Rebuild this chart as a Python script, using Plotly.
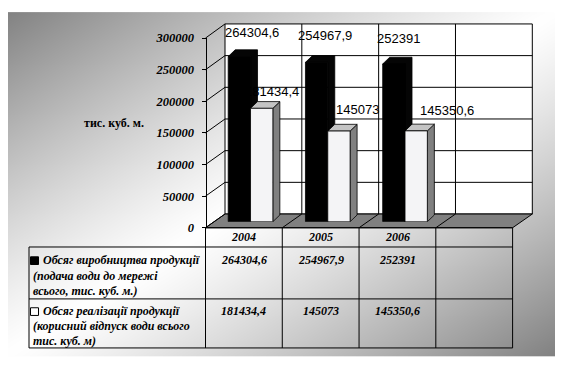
import base64
import struct
import zlib

import numpy as np
import plotly.graph_objects as go

# ---------------- data ----------------
years = ["2004", "2005", "2006"]
production = [264304.6, 254967.9, 252391.0]   # Обсяг виробництва продукції
sales = [181434.4, 145073.0, 145350.6]        # Обсяг реалізації продукції
y_tick_values = [0, 50000, 100000, 150000, 200000, 250000, 300000]
y_tick_labels = ["0", "50000", "100000", "150000", "200000", "250000", "300000"]
y_title = "тис. куб. м."
production_label = ["Обсяг виробництва продукції", "(подача води до мережі", "всього, тис. куб. м.)"]
sales_label = ["Обсяг реалізації продукції", "(корисний відпуск води всього", "тис. куб. м)"]

# ---------------- geometry (pixels of the 564x371 window) ----------------
W, H = 564, 371
OFF = 8                      # the page body has an 8px margin
FW, FH = W - OFF, H - OFF    # figure size so that the page fits the window


def px(x):
    return (x - OFF) / FW


def py(y):
    return 1 - (y - OFF) / FH


Y_MAX = 300000
N_SLOTS = 4                      # 3 years + one empty slot, as in the source
BAR_Y0, BAR_Y1 = 223.0, 28.0     # bar plane: value 0 / value Y_MAX
BAR_X0, BAR_X1 = 211.9, 520.9    # bar plane: slot -0.5 / slot 3.5
FRONT_X = 205.5                  # front axis line
FRONT_Y0, FRONT_Y1 = 229.3, 32.0
BACK_X0, BACK_X1 = 225.0, 532.3  # back wall
BACK_Y0, BACK_Y1 = 215.0, 17.3
FLOOR_FX1 = 512.6
TABLE_LEFT = 29.0
ROW_Y = [229.3, 249.3, 303.3, 354.3]

BW = 0.289                                     # bar width (slot units)
DEPTH_PX = 7.0
DX = DEPTH_PX / ((BAR_X1 - BAR_X0) / N_SLOTS)  # depth offset in slot units
DY = DEPTH_PX / ((BAR_Y0 - BAR_Y1) / Y_MAX)    # depth offset in value units


def y_back(v):
    return BACK_Y0 - v / Y_MAX * (BACK_Y0 - BACK_Y1)


def y_front(v):
    return FRONT_Y0 - v / Y_MAX * (FRONT_Y0 - FRONT_Y1)


def x_back(k):
    return BACK_X0 + k * (BACK_X1 - BACK_X0) / N_SLOTS


def x_front(k):
    return FRONT_X + k * (FLOOR_FX1 - FRONT_X) / N_SLOTS


def fmt(v):
    s = ("%.1f" % v).rstrip("0").rstrip(".")
    return s.replace(".", ",")


# ---------------- background gradient image ----------------
GX0, GY0, GX1, GY1 = 5, 5, 555, 363
gw, gh = GX1 - GX0, GY1 - GY0
xx, yy = np.meshgrid(np.arange(gw) / (gw - 1), np.arange(gh) / (gh - 1))
s = np.abs(xx + yy - 1.0)
img = (255 - (255 - 130) * s ** 1.2).clip(0, 255).astype(np.uint8)


def to_png(a):
    h, w = a.shape
    raw = b"".join(b"\x00" + a[r].tobytes() for r in range(h))

    def chunk(tag, data):
        return struct.pack(">I", len(data)) + tag + data + struct.pack(">I", zlib.crc32(tag + data) & 0xFFFFFFFF)

    return (b"\x89PNG\r\n\x1a\n" + chunk(b"IHDR", struct.pack(">IIBBBBB", w, h, 8, 0, 0, 0, 0))
            + chunk(b"IDAT", zlib.compress(raw, 9)) + chunk(b"IEND", b""))


bg_uri = "data:image/png;base64," + base64.b64encode(to_png(img)).decode()

# ---------------- traces ----------------
idx = list(range(len(years)))
fig = go.Figure()


def faces(values, left_offset):
    tops, sides, both = [], [], []
    for i, v in zip(idx, values):
        x0 = i + left_offset
        x1 = x0 + BW
        tops += [(x0, v), (x1, v), (x1 + DX, v + DY), (x0 + DX, v + DY), (x0, v), (None, None)]
        sides += [(x1, 0), (x1, v), (x1 + DX, v + DY), (x1 + DX, DY), (x1, 0), (None, None)]
        both += [(x0, v), (x0 + DX, v + DY), (x1 + DX, v + DY), (x1 + DX, DY), (x1, 0), (x1, v), (x0, v), (None, None)]
    return tops, sides, both


def poly(points, fill, name):
    return go.Scatter(x=[p[0] for p in points], y=[p[1] for p in points], mode="lines",
                      fill="toself", fillcolor=fill, line=dict(color="black", width=0.8),
                      hoverinfo="skip", name=name, xaxis="x", yaxis="y")


_, _, p_both = faces(production, -BW)
s_tops, s_sides, _ = faces(sales, 0.0)
fig.add_trace(poly(p_both, "#050505", "prod-depth"))
fig.add_trace(poly(s_sides, "#808080", "sales-side"))
fig.add_trace(poly(s_tops, "#c4c4c4", "sales-top"))

fig.add_trace(go.Bar(x=idx, y=production, offset=-BW, width=BW, name=production_label[0],
                     marker=dict(color="#000000", line=dict(color="black", width=0.8)),
                     xaxis="x2", yaxis="y2"))
fig.add_trace(go.Bar(x=idx, y=sales, offset=0.0, width=BW, name=sales_label[0],
                     marker=dict(color="#f4f4f6", line=dict(color="black", width=0.8)),
                     xaxis="x2", yaxis="y2"))
# empty trace so that the front value axis gets its own subplot
fig.add_trace(go.Scatter(x=[], y=[], xaxis="x3", yaxis="y3", hoverinfo="skip", showlegend=False))

# ---------------- data labels ----------------
label_font = dict(family="Liberation Sans, Arial, sans-serif", size=13, color="black")
prod_shift_x, prod_shift_y = [1, -3, -7], [24.5, 27, 25]
sales_shift_x, sales_shift_y = [21, 30, 42], [17, 21.5, 20]
annotations = []
for i, v in zip(idx, production):
    annotations.append(dict(x=i, y=v, xref="x2", yref="y2", text=fmt(v), showarrow=False,
                            xshift=prod_shift_x[i], yshift=prod_shift_y[i], font=label_font))
for i, v in zip(idx, sales):
    annotations.append(dict(x=i, y=v, xref="x2", yref="y2", text=fmt(v), showarrow=False,
                            xshift=sales_shift_x[i], yshift=sales_shift_y[i], font=label_font))

# ---------------- walls, floor, grid (decoration) ----------------
line_k = dict(color="black", width=1)
shapes = []
shapes.append(dict(type="rect", xref="paper", yref="paper", x0=px(BACK_X0), x1=px(BACK_X1),
                   y0=py(BACK_Y0), y1=py(BACK_Y1), fillcolor="white", line=line_k, layer="below"))
for v in y_tick_values[1:-1]:
    shapes.append(dict(type="line", xref="paper", yref="paper", x0=px(BACK_X0), x1=px(BACK_X1),
                       y0=py(y_back(v)), y1=py(y_back(v)), line=line_k, layer="below"))
for k in range(1, N_SLOTS):
    shapes.append(dict(type="line", xref="paper", yref="paper", x0=px(x_back(k)), x1=px(x_back(k)),
                       y0=py(BACK_Y0), y1=py(BACK_Y1), line=line_k, layer="below"))
floor_path = "M {} {} L {} {} L {} {} L {} {} Z".format(
    px(FRONT_X), py(FRONT_Y0), px(FLOOR_FX1), py(FRONT_Y0),
    px(BACK_X1), py(BACK_Y0), px(BACK_X0), py(BACK_Y0))
shapes.append(dict(type="path", xref="paper", yref="paper", path=floor_path,
                   fillcolor="#808080", line=line_k, layer="below"))
for k in range(1, N_SLOTS):
    shapes.append(dict(type="line", xref="paper", yref="paper", x0=px(x_front(k)), x1=px(x_back(k)),
                       y0=py(FRONT_Y0), y1=py(BACK_Y0), line=line_k, layer="below"))
for v in y_tick_values:
    shapes.append(dict(type="line", xref="paper", yref="paper", x0=px(FRONT_X), x1=px(BACK_X0),
                       y0=py(y_front(v)), y1=py(y_back(v)), line=line_k, layer="below"))

# ---------------- data table ----------------
SERIF = "Liberation Serif, Times New Roman, serif"
table_font = dict(family=SERIF, size=12, color="black", weight="bold", style="italic")
shapes.append(dict(type="line", xref="paper", yref="paper", x0=px(FRONT_X), x1=px(x_front(N_SLOTS)),
                   y0=py(ROW_Y[0]), y1=py(ROW_Y[0]), line=line_k))
for yv in ROW_Y[1:]:
    shapes.append(dict(type="line", xref="paper", yref="paper", x0=px(TABLE_LEFT), x1=px(x_front(N_SLOTS)),
                       y0=py(yv), y1=py(yv), line=line_k))
for k in range(N_SLOTS + 1):
    shapes.append(dict(type="line", xref="paper", yref="paper", x0=px(x_front(k)), x1=px(x_front(k)),
                       y0=py(ROW_Y[0]), y1=py(ROW_Y[-1]), line=line_k))
shapes.append(dict(type="line", xref="paper", yref="paper", x0=px(TABLE_LEFT), x1=px(TABLE_LEFT),
                   y0=py(ROW_Y[1]), y1=py(ROW_Y[-1]), line=line_k))
shapes.append(dict(type="rect", xref="paper", yref="paper", x0=px(30.5), x1=px(38.5), y0=py(267.5), y1=py(259.5),
                   fillcolor="black", line=dict(color="black", width=1)))
shapes.append(dict(type="rect", xref="paper", yref="paper", x0=px(30.5), x1=px(38.5), y0=py(320.5), y1=py(312.5),
                   fillcolor="white", line=dict(color="black", width=1)))

col_centers = [(x_front(k) + x_front(k + 1)) / 2 for k in range(N_SLOTS)]
for k, yr in enumerate(years):
    annotations.append(dict(x=px(col_centers[k]), y=py(238.8), xref="paper", yref="paper", text=yr,
                            showarrow=False, font=table_font, xanchor="center", yanchor="middle"))
    annotations.append(dict(x=px(col_centers[k]), y=py(263.3), xref="paper", yref="paper",
                            text=fmt(production[k]), showarrow=False, font=table_font,
                            xanchor="center", yanchor="middle"))
    annotations.append(dict(x=px(col_centers[k]), y=py(315.8), xref="paper", yref="paper",
                            text=fmt(sales[k]), showarrow=False, font=table_font,
                            xanchor="center", yanchor="middle"))

for lines, ys in ((production_label, [263.3, 279.5, 295.3]), (sales_label, [316.3, 331.7, 346.7])):
    for j, (t, yv) in enumerate(zip(lines, ys)):
        annotations.append(dict(x=px(41 if j == 0 else 30.5), y=py(yv), xref="paper", yref="paper", text=t,
                                showarrow=False, font=table_font, xanchor="left", yanchor="middle"))

annotations.append(dict(x=px(114), y=py(120.7), xref="paper", yref="paper", text=y_title, showarrow=False,
                        font=dict(family=SERIF, size=12, color="black", weight="bold"),
                        xanchor="center", yanchor="middle"))

# ---------------- layout ----------------
hidden = dict(visible=False, showgrid=False, zeroline=False, fixedrange=True)
fig.update_layout(
    width=FW, height=FH, autosize=False,
    margin=dict(l=0, r=0, t=0, b=0, pad=0),
    paper_bgcolor="white", plot_bgcolor="rgba(0,0,0,0)",
    showlegend=False, barmode="overlay",
    xaxis=dict(domain=[px(BAR_X0), px(BAR_X1)], range=[-0.5, N_SLOTS - 0.5], **hidden),
    yaxis=dict(domain=[py(BAR_Y0), py(BAR_Y1)], range=[0, Y_MAX], **hidden),
    xaxis2=dict(overlaying="x", range=[-0.5, N_SLOTS - 0.5], **hidden),
    yaxis2=dict(overlaying="y", range=[0, Y_MAX], **hidden),
    xaxis3=dict(domain=[px(FRONT_X), px(FRONT_X + 1)], anchor="y3", range=[0, 1], **hidden),
    yaxis3=dict(domain=[py(FRONT_Y0), py(FRONT_Y1)], range=[0, Y_MAX], anchor="free", position=px(FRONT_X),
                side="left", showline=True, linecolor="black", linewidth=1, ticks="outside", ticklen=4,
                tickcolor="black", tickwidth=1, tickvals=y_tick_values,
                ticktext=["<b><i>" + t + "</i></b>" for t in y_tick_labels],
                ticklabelstandoff=5, showgrid=False, zeroline=False, fixedrange=True,
                tickfont=dict(family=SERIF, size=12.5, color="black")),
    shapes=shapes,
    annotations=annotations,
    images=[dict(source=bg_uri, xref="paper", yref="paper", x=px(GX0), y=py(GY0),
                 sizex=gw / FW, sizey=gh / FH, sizing="stretch", xanchor="left", yanchor="top",
                 layer="below")],
)

fig.write_html("out.html")
